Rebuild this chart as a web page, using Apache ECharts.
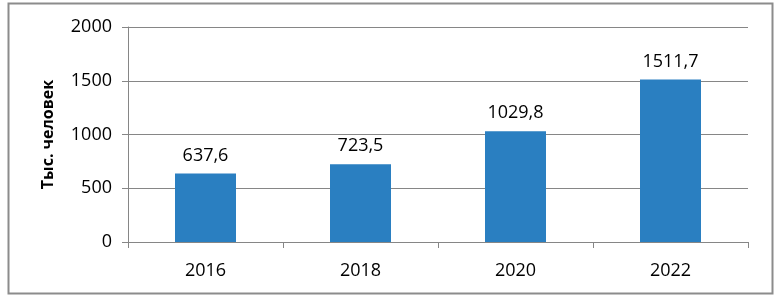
<!DOCTYPE html>
<html>
<head>
<meta charset="utf-8">
<script src="https://cdn.jsdelivr.net/npm/echarts@6/dist/echarts.min.js"></script>
<style>
html,body{margin:0;padding:0;background:#fff;}
#chart{width:779px;height:299px;}
</style>
</head>
<body>
<div id="chart"></div>
<script>
// данные
var years = ['2016', '2018', '2020', '2022'];
var values = [637.6, 723.5, 1029.8, 1511.7];
var yName = 'Тыс. человек';

var font = '"Open Sans", "Noto Sans", sans-serif';
var chart = echarts.init(document.getElementById('chart'));
var option = {
	animation: false,
	graphic: [{
		type: 'rect',
		shape: {x: 8.5, y: 3.5, width: 764, height: 290},
		style: {fill: 'none', stroke: '#8c8c8c', lineWidth: 2}
	}],
	grid: {left: 128, right: 31, top: 27, bottom: 57},
	xAxis: {
		type: 'category',
		data: years,
		axisLine: {lineStyle: {color: '#868686'}},
		axisTick: {show: true, length: 6, lineStyle: {color: '#868686'}},
		axisLabel: {color: '#000', fontSize: 18, fontFamily: font, margin: 20}
	},
	yAxis: {
		type: 'value',
		min: 0, max: 2000, interval: 500,
		name: yName,
		nameLocation: 'middle',
		nameGap: 72,
		nameTextStyle: {color: '#000', fontSize: 16, fontWeight: 'bold', fontFamily: font},
		axisLine: {show: true, lineStyle: {color: '#868686'}},
		axisTick: {show: true, length: 6, lineStyle: {color: '#868686'}},
		axisLabel: {color: '#000', fontSize: 18, fontFamily: font, margin: 16,
			formatter: function(v){ return String(v); }},
		splitLine: {lineStyle: {color: '#868686'}}
	},
	series: [{
		type: 'bar',
		data: values,
		barWidth: 61,
		itemStyle: {color: '#2a7fc1'},
		label: {
			show: true,
			position: 'top',
			distance: 9,
			color: '#000',
			fontSize: 18,
			fontFamily: font,
			formatter: function(p){ return String(p.value).replace('.', ','); }
		}
	}]
};
chart.setOption(option);
</script>
</body>
</html>
